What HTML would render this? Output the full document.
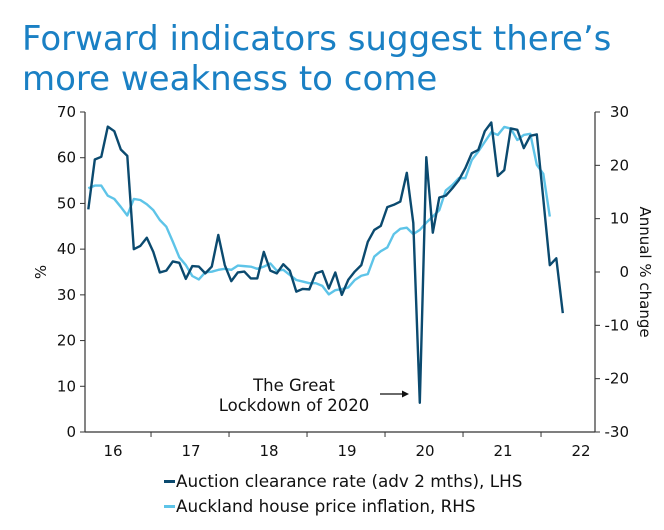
<!DOCTYPE html>
<html><head><meta charset="utf-8"><style>
html,body{margin:0;padding:0;background:#fff;width:664px;height:530px;overflow:hidden}
svg{display:block;font-family:"DejaVu Sans","Liberation Sans",sans-serif}
</style></head><body>
<svg id="chart" width="664" height="530" viewBox="0 0 664 530" xmlns="http://www.w3.org/2000/svg">
<text x="22" y="50" font-size="34" fill="#1a80c4" font-family="'DejaVu Sans',sans-serif">Forward indicators suggest there’s</text>
<text x="22" y="90" font-size="34" fill="#1a80c4" font-family="'DejaVu Sans',sans-serif">more weakness to come</text>
<g id="axes"></g>
<g id="series"></g>
<text transform="translate(46,272) rotate(-90)" text-anchor="middle" font-size="15" fill="#111">%</text>
<text transform="translate(640,272) rotate(90)" text-anchor="middle" font-size="15" fill="#111">Annual % change</text>
<g>
<text x="294" y="391" text-anchor="middle" font-size="16.5" fill="#111">The Great</text>
<text x="294" y="411" text-anchor="middle" font-size="16.5" fill="#111">Lockdown of 2020</text>
<line x1="380" y1="394" x2="403" y2="394" stroke="#111" stroke-width="1.2"/>
<polygon points="409,394 402,390.5 402,397.5" fill="#111"/>
</g>
<g>
<g>
<rect x="164" y="480" width="11" height="3" fill="#0b4a6f"/>
<text x="176" y="487" font-size="16.8" fill="#111">Auction clearance rate (adv 2 mths), LHS</text></g>
<g>
<rect x="164" y="505" width="11" height="3" fill="#5ec4e8"/>
<text x="176" y="512" font-size="16.8" fill="#111">Auckland house price inflation, RHS</text></g>
</g>
</svg>
<script>
const auctionRate=[48.7,59.6,60.2,66.8,65.8,61.8,60.4,40.0,40.7,42.5,39.4,34.9,35.3,37.3,37.0,33.5,36.3,36.2,34.7,36.2,43.1,36.5,33.0,34.9,35.1,33.6,33.6,39.4,35.3,34.7,36.7,35.3,30.7,31.3,31.2,34.7,35.2,31.4,34.9,30.0,33.3,35.1,36.5,41.6,44.2,45.1,49.2,49.7,50.4,56.7,45.7,6.4,60.1,43.6,51.3,51.7,53.3,55.1,57.7,61.0,61.7,65.8,67.7,56.0,57.3,66.4,66.1,62.1,64.8,65.1,51,36.5,38.0,26.0];
const housePrice=[15.7,16.2,16.2,14.3,13.7,12.2,10.6,13.7,13.5,12.7,11.6,9.75,8.5,5.7,2.75,1.3,-0.75,-1.4,-0.06,0.06,0.4,0.6,0.4,1.2,1.1,1.0,0.6,1.0,1.6,0.25,0.4,-0.56,-1.5,-1.8,-2.1,-2.1,-2.6,-4.2,-3.4,-3.2,-2.9,-1.5,-0.7,-0.4,2.9,3.9,4.6,7.1,8.1,8.3,7.1,7.9,9.25,10.4,11.6,15.3,16.3,17.6,17.6,21.0,22.6,24.4,26.2,25.7,27.2,26.9,24.75,25.7,25.9,20.1,18.4,10.4];
const yearLabels=["16","17","18","19","20","21","22"];
const leftTicks=[0,10,20,30,40,50,60,70];
const rightTicks=[-30,-20,-10,0,10,20,30];
const firstJanIndex=9.65;

const NS="http://www.w3.org/2000/svg";
const L=85,R=595,T=112,B=432;
const xS=i=>88.3+i*6.5;
const yL=v=>B-(v-0)/70*(B-T);
const yR=v=>B-(v+30)/60*(B-T);
function mk(tag,attrs,parent){const e=document.createElementNS(NS,tag);for(const k in attrs)e.setAttribute(k,attrs[k]);parent.appendChild(e);return e;}
const ax=document.getElementById('axes');
let e=mk('line',{x1:L,y1:T,x2:L,y2:B,stroke:'#333','stroke-width':1.2},ax);


e=mk('line',{x1:R,y1:T,x2:R,y2:B,stroke:'#333','stroke-width':1.2},ax);


e=mk('line',{x1:L,y1:B,x2:R,y2:B,stroke:'#333','stroke-width':1.2},ax);


leftTicks.forEach(v=>{const y=yL(v);
 mk('line',{x1:L-5,y1:y,x2:L,y2:y,stroke:'#333'},ax);
 const t=mk('text',{x:L-9,y:y+5,'text-anchor':'end','font-size':15,fill:'#111'},ax);t.textContent=v;
 
 });
rightTicks.forEach(v=>{const y=yR(v);
 mk('line',{x1:R,y1:y,x2:R+5,y2:y,stroke:'#333'},ax);
 const t=mk('text',{x:R+34,y:y+5,'text-anchor':'end','font-size':15,fill:'#111'},ax);t.textContent=v;
 
 });
yearLabels.forEach((lab,k)=>{const j=firstJanIndex+12*k;
 if(k<6)mk('line',{x1:xS(j),y1:B,x2:xS(j),y2:B+5,stroke:'#333'},ax);
 const t=mk('text',{x:xS(j-6)+1,y:B+24,'text-anchor':'middle','font-size':15,fill:'#111'},ax);t.textContent=lab;
 
 });
const sg=document.getElementById('series');
let p=mk('polyline',{points:housePrice.map((v,i)=>xS(i)+','+yR(v)).join(' '),fill:'none',stroke:'#5ec4e8','stroke-width':2.4,'stroke-linejoin':'round'},sg);


p=mk('polyline',{points:auctionRate.map((v,i)=>xS(i)+','+yL(v)).join(' '),fill:'none',stroke:'#0b4a6f','stroke-width':2.4,'stroke-linejoin':'round'},sg);


</script>
</body></html>
